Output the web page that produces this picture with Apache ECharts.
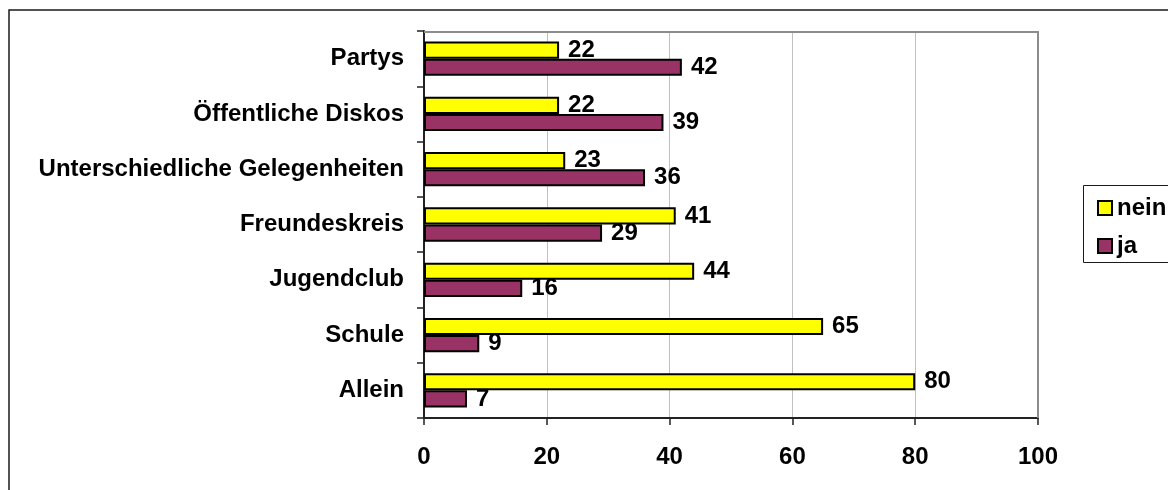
<!DOCTYPE html>
<html>
<head>
<meta charset="utf-8">
<style>
  html, body { margin: 0; padding: 0; background: #fff; }
  #chart { width: 1168px; height: 490px; }
</style>
<script src="https://cdn.jsdelivr.net/npm/echarts@6/dist/echarts.min.js"></script>
</head>
<body>
<div id="chart"></div>
<script>
// Categories listed from bottom to top of the value axis
const categories = [
  'Allein',
  'Schule',
  'Jugendclub',
  'Freundeskreis',
  'Unterschiedliche Gelegenheiten',
  'Öffentliche Diskos',
  'Partys'
];
const neinValues = [80, 65, 44, 41, 23, 22, 22];
const jaValues = [7, 9, 16, 29, 36, 39, 42];
const xTicks = [0, 20, 40, 60, 80, 100];

const FONT = '"Liberation Sans", Arial, sans-serif';
const FONT_SIZE = 24;
const labelStyle = {
  show: true,
  position: 'right',
  distance: 9,
  color: '#000',
  fontFamily: FONT,
  fontWeight: 'bold',
  fontSize: FONT_SIZE
};

const chart = echarts.init(document.getElementById('chart'), null, { renderer: 'canvas' });

chart.setOption({
  backgroundColor: '#fff',
  animation: false,
  grid: { left: 424, right: 130, top: 31, bottom: 72 },
  legend: {
    orient: 'vertical',
    left: 1092,
    top: 191,
    itemWidth: 14,
    itemHeight: 14,
    itemGap: 14,
    icon: 'rect',
    data: ['nein', 'ja'],
    itemStyle: { borderColor: '#000', borderWidth: 2 },
    textStyle: { color: '#000', fontFamily: FONT, fontWeight: 'bold', fontSize: FONT_SIZE }
  },
  xAxis: {
    type: 'value',
    min: xTicks[0],
    max: xTicks[xTicks.length - 1],
    interval: xTicks[1] - xTicks[0],
    axisLine: { show: true, lineStyle: { color: '#222', width: 2 } },
    axisTick: { show: true, inside: false, length: 7, lineStyle: { color: '#222', width: 1.5 } },
    axisLabel: { color: '#000', fontFamily: FONT, fontWeight: 'bold', fontSize: FONT_SIZE, margin: 27 },
    splitLine: { show: true, lineStyle: { color: '#c0c0c0', width: 1 } }
  },
  yAxis: {
    type: 'category',
    data: categories,
    axisLine: { show: true, lineStyle: { color: '#222', width: 2 } },
    axisTick: { show: true, inside: false, length: 7, alignWithLabel: false, lineStyle: { color: '#222', width: 1.5 } },
    axisLabel: { color: '#000', fontFamily: FONT, fontWeight: 'bold', fontSize: FONT_SIZE, margin: 20 },
    splitLine: { show: false }
  },
  series: [
    {
      name: 'nein',
      type: 'bar',
      data: neinValues,
      barGap: '0%',
      barCategoryGap: '38%',
      itemStyle: { color: '#ffff00', borderColor: '#000', borderWidth: 2 },
      label: labelStyle
    },
    {
      name: 'ja',
      type: 'bar',
      data: jaValues,
      barGap: '0%',
      barCategoryGap: '38%',
      itemStyle: { color: '#993366', borderColor: '#000', borderWidth: 2 },
      label: labelStyle
    }
  ],
  graphic: [
    // outer chart frame (left and top edges visible)
    { type: 'rect', silent: true, shape: { x: 9, y: 10, width: 1200, height: 520 },
      style: { fill: 'none', stroke: '#1a1a1a', lineWidth: 1.5 }, z: -1 },
    // plot area frame on the top and right
    { type: 'polyline', silent: true, shape: { points: [[424, 32], [1038, 32], [1038, 418]] },
      style: { fill: 'none', stroke: '#8c8c8c', lineWidth: 2 }, z: 1 },
    // legend box
    { type: 'rect', silent: true, shape: { x: 1083.5, y: 185.5, width: 120, height: 77 },
      style: { fill: '#fff', stroke: '#1a1a1a', lineWidth: 1 }, z: -1 }
  ]
});
</script>
</body>
</html>
